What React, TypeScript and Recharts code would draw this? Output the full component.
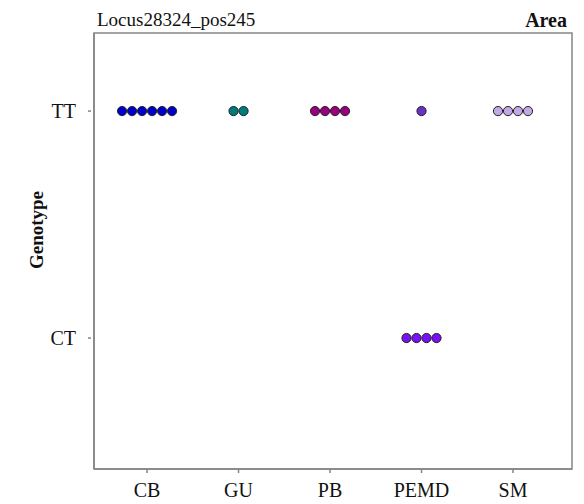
import React from "react";
import {
  ScatterChart,
  Scatter,
  XAxis,
  YAxis,
  ReferenceArea,
} from "recharts";

const POPULATIONS = ["CB", "GU", "PB", "PEMD", "SM"];
const GENOTYPES = ["CT", "TT"];

// number of samples per population for each genotype
const TT_COUNTS = [6, 2, 4, 1, 4];
const CT_COUNTS = [0, 0, 0, 4, 0];

const TT_COLORS = ["#0000CC", "#007B7B", "#990080", "#6A30C8", "#C2A8E6"];
const CT_COLORS = ["#0000CC", "#007B7B", "#990080", "#7A10F5", "#C2A8E6"];

const X_DOMAIN: [number, number] = [0.42, 5.645];
const Y_DOMAIN: [number, number] = [0.423, 2.344];

const FONT = '"Liberation Serif", "Times New Roman", serif';
const FRAME = "#858585";
const DOT_D = 10;

type Pt = { x: number; y: number; slot: number; n: number; fill: string };

function buildPoints(counts: number[], colors: string[], genotype: string): Pt[] {
  const y = GENOTYPES.indexOf(genotype) + 1;
  const pts: Pt[] = [];
  counts.forEach((n, i) => {
    for (let s = 0; s < n; s++) {
      pts.push({ x: i + 1, y, slot: s, n, fill: colors[i] });
    }
  });
  return pts;
}

const ttPoints = buildPoints(TT_COUNTS, TT_COLORS, "TT");
const ctPoints = buildPoints(CT_COUNTS, CT_COLORS, "CT");

// dots of one group sit side by side, centred on the category
const Dot = (props: any) => {
  const { cx, cy, payload } = props;
  const off = (payload.slot - (payload.n - 1) / 2) * DOT_D;
  return (
    <circle
      cx={cx + off}
      cy={cy}
      r={4.6}
      fill={payload.fill}
      stroke="#222"
      strokeWidth={1}
    />
  );
};

const XTick = (props: any) => {
  const { x, y, payload } = props;
  return (
    <g>
      <line x1={x} x2={x} y1={y} y2={y + 4} stroke={FRAME} strokeWidth={1.5} />
      <text x={x} y={y + 28} textAnchor="middle" fontFamily={FONT} fontSize={20} fill="#111">
        {POPULATIONS[payload.value - 1]}
      </text>
    </g>
  );
};

const YTick = (props: any) => {
  const { x, y, payload } = props;
  return (
    <g>
      <line x1={x - 6} x2={x - 3} y1={y} y2={y} stroke={FRAME} strokeWidth={1.5} />
      <text x={x - 18} y={y} dy="0.34em" textAnchor="end" fontFamily={FONT} fontSize={20} fill="#111">
        {GENOTYPES[payload.value - 1]}
      </text>
    </g>
  );
};

export default function App() {
  return (
    <div style={{ position: "absolute", left: 0, top: 0, width: 584, height: 504, background: "#fff" }}>
      <ScatterChart width={584} height={504} margin={{ top: 33, right: 12, bottom: 0, left: 0 }}>
        <XAxis
          type="number"
          dataKey="x"
          domain={X_DOMAIN}
          ticks={[1, 2, 3, 4, 5]}
          allowDataOverflow
          height={35}
          tickSize={0}
          tickMargin={0}
          tickLine={false}
          axisLine={{ stroke: FRAME, strokeWidth: 1.5 }}
          tick={<XTick />}
        />
        <YAxis
          type="number"
          dataKey="y"
          domain={Y_DOMAIN}
          ticks={[1, 2]}
          allowDataOverflow
          width={94}
          tickSize={0}
          tickMargin={0}
          tickLine={false}
          axisLine={{ stroke: FRAME, strokeWidth: 1.5 }}
          tick={<YTick />}
        />
        <ReferenceArea
          x1={X_DOMAIN[0]}
          x2={X_DOMAIN[1]}
          y1={Y_DOMAIN[0]}
          y2={Y_DOMAIN[1]}
          fill="none"
          stroke={FRAME}
          strokeWidth={1.5}
        />
        <Scatter data={ttPoints} shape={<Dot />} isAnimationActive={false} />
        <Scatter data={ctPoints} shape={<Dot />} isAnimationActive={false} />
      </ScatterChart>
      <svg
        width={584}
        height={504}
        style={{ position: "absolute", left: 0, top: 0, pointerEvents: "none" }}
      >
        <text x={97} y={26} fontFamily={FONT} fontSize={19} fill="#111">
          Locus28324_pos245
        </text>
        <text x={567} y={27} textAnchor="end" fontFamily={FONT} fontSize={20} fontWeight="bold" fill="#111">
          Area
        </text>
        <text
          x={43}
          y={230}
          transform="rotate(-90, 43, 230)"
          textAnchor="middle"
          fontFamily={FONT}
          fontSize={19}
          fontWeight="bold"
          fill="#111"
        >
          Genotype
        </text>
      </svg>
    </div>
  );
}
